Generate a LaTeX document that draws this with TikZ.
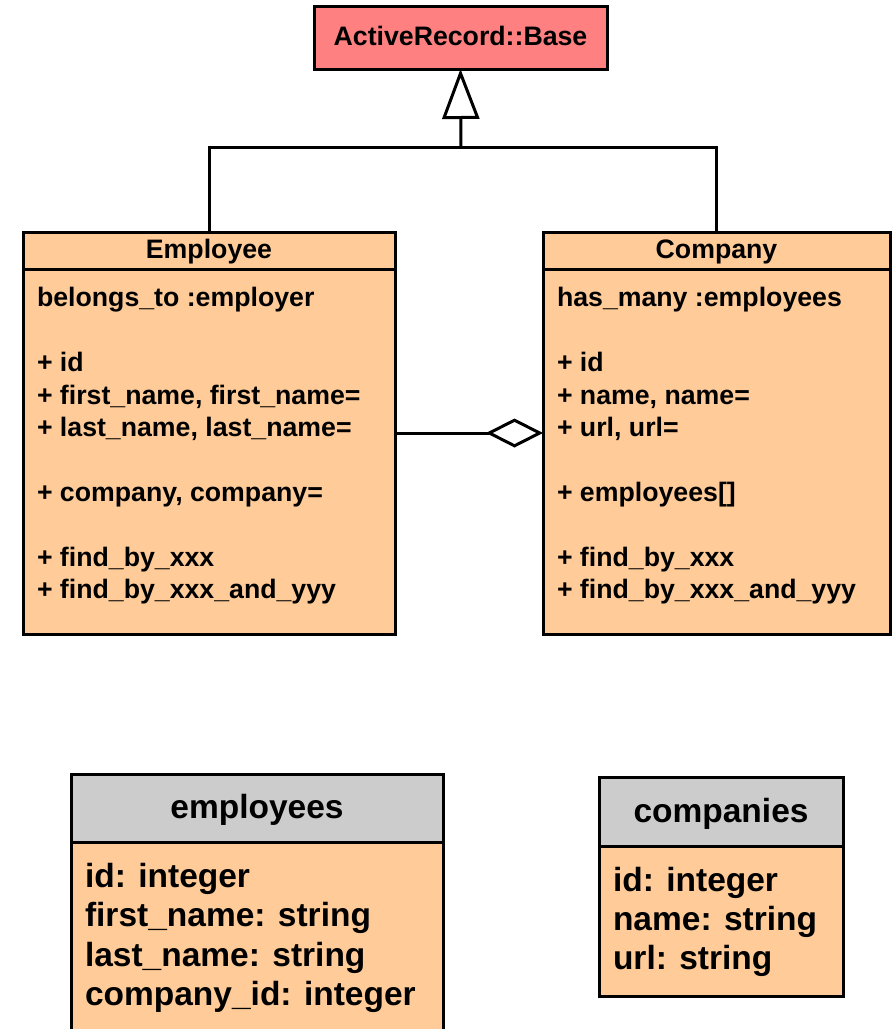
\documentclass[tikz,border=0pt]{standalone}
\usepackage{fontspec}
\setmainfont{Liberation Sans}
\usetikzlibrary{arrows.meta}
\definecolor{peach}{HTML}{FFCC99}
\definecolor{rosered}{HTML}{FF8080}
\definecolor{headgray}{HTML}{CCCCCC}

\begin{document}
\begin{tikzpicture}[x=1pt, y=-1pt,
  every node/.style={inner sep=0pt, outer sep=0pt},
  box/.style={draw, line width=3pt, rectangle},
  umlfont/.style={font=\fontsize{26.7}{32.4}\selectfont\bfseries},
  tabfont/.style={font=\fontsize{33.5}{39.3}\selectfont\bfseries},
  link/.style={line width=3pt},
]
\useasboundingbox (0,0) rectangle (892,1029);
\clip (0,0) rectangle (892,1029);

% superclass
\node[box, fill=rosered, minimum width=293pt, minimum height=63pt] (base) at (460.5,37.5) {};
\node[umlfont, anchor=base] (basetxt) at (460.5,45) {ActiveRecord::Base};

% Employee class
\node[box, fill=peach, minimum width=372pt, minimum height=402pt] (emp) at (209,433) {};
\draw[link] ([yshift=-37pt]emp.north west) -- ([yshift=-37pt]emp.north east);
\node[umlfont, anchor=base] (emptitle) at (209,258) {Employee};
\node[umlfont, anchor=north west, align=left] (empbody) at (37,284.3)
  {\strut belongs\_to :employer\\[32.4pt]
   + id\\
   + first\_name, first\_name=\\
   + last\_name, last\_name=\\[32.4pt]
   + company, company=\\[32.4pt]
   + find\_by\_xxx\\
   + find\_by\_xxx\_and\_yyy};

% Company class
\node[box, fill=peach, minimum width=347pt, minimum height=402pt] (comp) at (716.5,433) {};
\draw[link] ([yshift=-37pt]comp.north west) -- ([yshift=-37pt]comp.north east);
\node[umlfont, anchor=base] (comptitle) at (716.5,258) {Company};
\node[umlfont, anchor=north west, align=left] (compbody) at (557,284.3)
  {\strut has\_many :employees\\[32.4pt]
   + id\\
   + name, name=\\
   + url, url=\\[32.4pt]
   + employees[]\\[32.4pt]
   + find\_by\_xxx\\
   + find\_by\_xxx\_and\_yyy};

% generalization
\coordinate (jn) at (461,147);
\draw[link] (emp.north) |- (jn) -| (comp.north);
\draw[link, -{Triangle[length=50pt, width=37pt, fill=white]}] (jn) -- (base.south);

% aggregation
\draw[link, -{Diamond[length=57pt, width=29pt, fill=white]}] (emp.east) -- (comp.west);

% employees table
\node[box, fill=peach, minimum width=372pt, minimum height=200pt] (empcols) at (257,942) {};
\node[box, fill=headgray, minimum width=372pt, minimum height=68pt] (emphead) at (257,808) {};
\node[tabfont, anchor=base] (emptab) at (257,818) {employees};
\node[tabfont, anchor=north west, align=left] (emprows) at (85,860)
  {\strut id: integer\\
   first\_name: string\\
   last\_name: string\\
   company\_id: integer};

% companies table
\node[box, fill=peach, minimum width=244pt, minimum height=150pt] (compcols) at (721,921) {};
\node[box, fill=headgray, minimum width=244pt, minimum height=69pt] (comphead) at (721,811.5) {};
\node[tabfont, anchor=base] (comptab) at (721,822.7) {companies};
\node[tabfont, anchor=north west, align=left] (comprows) at (613,863.5)
  {\strut id: integer\\
   name: string\\
   url: string};
\end{tikzpicture}
\end{document}
